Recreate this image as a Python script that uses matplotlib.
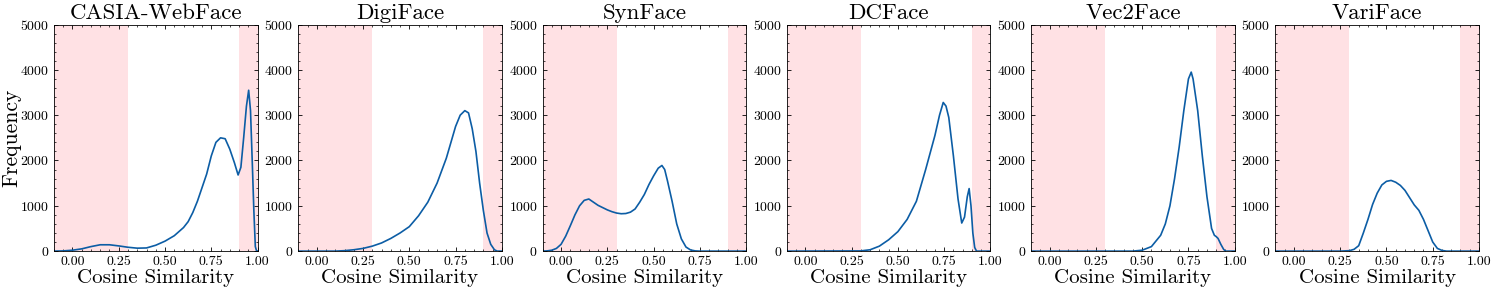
import matplotlib
matplotlib.use("Agg")
import matplotlib.pyplot as plt
import numpy as np
from matplotlib.ticker import MultipleLocator

plt.rcParams['font.family'] = 'serif'
plt.rcParams['font.serif'] = ['cmr10']
plt.rcParams['mathtext.fontset'] = 'cm'
plt.rcParams['axes.formatter.use_mathtext'] = True

titles = ['CASIA-WebFace', 'DigiFace', 'SynFace', 'DCFace', 'Vec2Face', 'VariFace']

casia_x = [-0.1, -0.05, 0.0, 0.05, 0.1, 0.15, 0.2, 0.25, 0.3, 0.35, 0.4, 0.45, 0.5, 0.55, 0.6,
           0.625, 0.65, 0.675, 0.7, 0.725, 0.75, 0.775, 0.8, 0.825, 0.85, 0.875, 0.895, 0.91,
           0.925, 0.94, 0.952, 0.962, 0.972, 0.98, 0.988, 0.995, 1.0]
casia_y = [0, 5, 20, 50, 100, 140, 140, 115, 85, 65, 70, 130, 220, 340, 520,
           650, 850, 1100, 1400, 1700, 2100, 2400, 2500, 2480, 2250, 1950, 1680, 1850,
           2500, 3200, 3550, 3100, 1900, 900, 100, 0, 0]

digi_x = [-0.1, 0.1, 0.15, 0.2, 0.25, 0.3, 0.35, 0.4, 0.45, 0.5, 0.55, 0.6, 0.65, 0.7, 0.725,
          0.75, 0.775, 0.8, 0.82, 0.84, 0.86, 0.88, 0.9, 0.92, 0.94, 0.96, 0.975, 1.0]
digi_y = [0, 0, 10, 30, 60, 110, 180, 280, 400, 540, 780, 1080, 1500, 2050, 2400,
          2750, 3000, 3100, 3050, 2700, 2200, 1500, 900, 400, 150, 30, 0, 0]

syn_x = [-0.1, -0.075, -0.05, -0.025, 0.0, 0.025, 0.05, 0.075, 0.1, 0.125, 0.15, 0.175, 0.2,
         0.225, 0.25, 0.275, 0.3, 0.325, 0.35, 0.375, 0.4, 0.425, 0.45, 0.475, 0.5, 0.525,
         0.545, 0.56, 0.575, 0.6, 0.625, 0.65, 0.675, 0.7, 0.725, 0.75, 1.0]
syn_y = [0, 5, 20, 60, 150, 330, 560, 800, 1000, 1120, 1150, 1080, 1010,
         960, 910, 870, 840, 825, 830, 860, 930, 1080, 1250, 1470, 1660, 1830,
         1890, 1800, 1550, 1100, 600, 270, 90, 25, 5, 0, 0]

dc_x = [-0.1, 0.3, 0.35, 0.4, 0.45, 0.5, 0.55, 0.6, 0.65, 0.7, 0.725, 0.745, 0.76, 0.775, 0.8,
        0.825, 0.845, 0.86, 0.875, 0.885, 0.895, 0.905, 0.915, 0.925, 1.0]
dc_y = [0, 5, 30, 110, 250, 430, 700, 1100, 1800, 2550, 3000, 3280, 3200, 2950, 2100,
        1150, 620, 750, 1200, 1380, 1000, 400, 80, 0, 0]

vec_x = [-0.1, 0.45, 0.5, 0.55, 0.6, 0.625, 0.65, 0.675, 0.7, 0.725, 0.75, 0.765, 0.775, 0.8,
         0.825, 0.85, 0.875, 0.89, 0.9, 0.91, 0.925, 0.94, 0.95, 1.0]
vec_y = [0, 0, 20, 100, 350, 600, 1000, 1600, 2300, 3100, 3800, 3950, 3800, 3100,
         2100, 1200, 500, 350, 320, 280, 150, 40, 0, 0]

vari_x = [-0.1, 0.25, 0.3, 0.325, 0.35, 0.375, 0.4, 0.425, 0.45, 0.475, 0.5, 0.525, 0.55, 0.575,
          0.6, 0.625, 0.65, 0.675, 0.7, 0.725, 0.75, 0.775, 0.8, 0.825, 1.0]
vari_y = [0, 0, 10, 40, 120, 400, 700, 1030, 1280, 1460, 1540, 1560, 1520, 1450,
          1340, 1180, 1020, 900, 700, 450, 200, 60, 15, 0, 0]

xs = [casia_x, digi_x, syn_x, dc_x, vec_x, vari_x]
ys = [casia_y, digi_y, syn_y, dc_y, vec_y, vari_y]

fig, axes = plt.subplots(1, 6, figsize=(14.95, 2.92), dpi=100)
fig.subplots_adjust(left=0.0361, right=0.9893, top=0.916, bottom=0.140, wspace=0.2)

for i, ax in enumerate(axes):
    ax.axvspan(-0.1, 0.3, color='#ffe1e4', lw=0, zorder=0)
    ax.axvspan(0.9, 1.0, color='#ffe1e4', lw=0, zorder=0)
    ax.plot(xs[i], ys[i], color='#0C5DA5', lw=1.2, zorder=2)
    ax.set_xlim(-0.1, 1.0)
    ax.set_ylim(0, 5000)
    ax.set_title(titles[i], fontsize=16.5, pad=4)
    ax.set_xlabel('Cosine Similarity', fontsize=15, labelpad=1)
    ax.xaxis.set_minor_locator(MultipleLocator(0.05))
    ax.yaxis.set_major_locator(MultipleLocator(1000))
    ax.yaxis.set_minor_locator(MultipleLocator(200))
    ax.set_xticks([0, 0.25, 0.5, 0.75, 1.0])
    ax.set_xticklabels(['0.00', '0.25', '0.50', '0.75', '1.00'])
    ax.tick_params(which='both', direction='in', top=True, right=True, labelsize=10)
    ax.tick_params(which='major', length=3, width=0.6)
    ax.tick_params(which='minor', length=1.5, width=0.5)
    for s in ax.spines.values():
        s.set_linewidth(0.6)
axes[0].set_ylabel('Frequency', fontsize=15.5)
axes[0].yaxis.set_label_coords(-0.16, 0.5)

plt.savefig('out.png', dpi=100)
plt.close()
